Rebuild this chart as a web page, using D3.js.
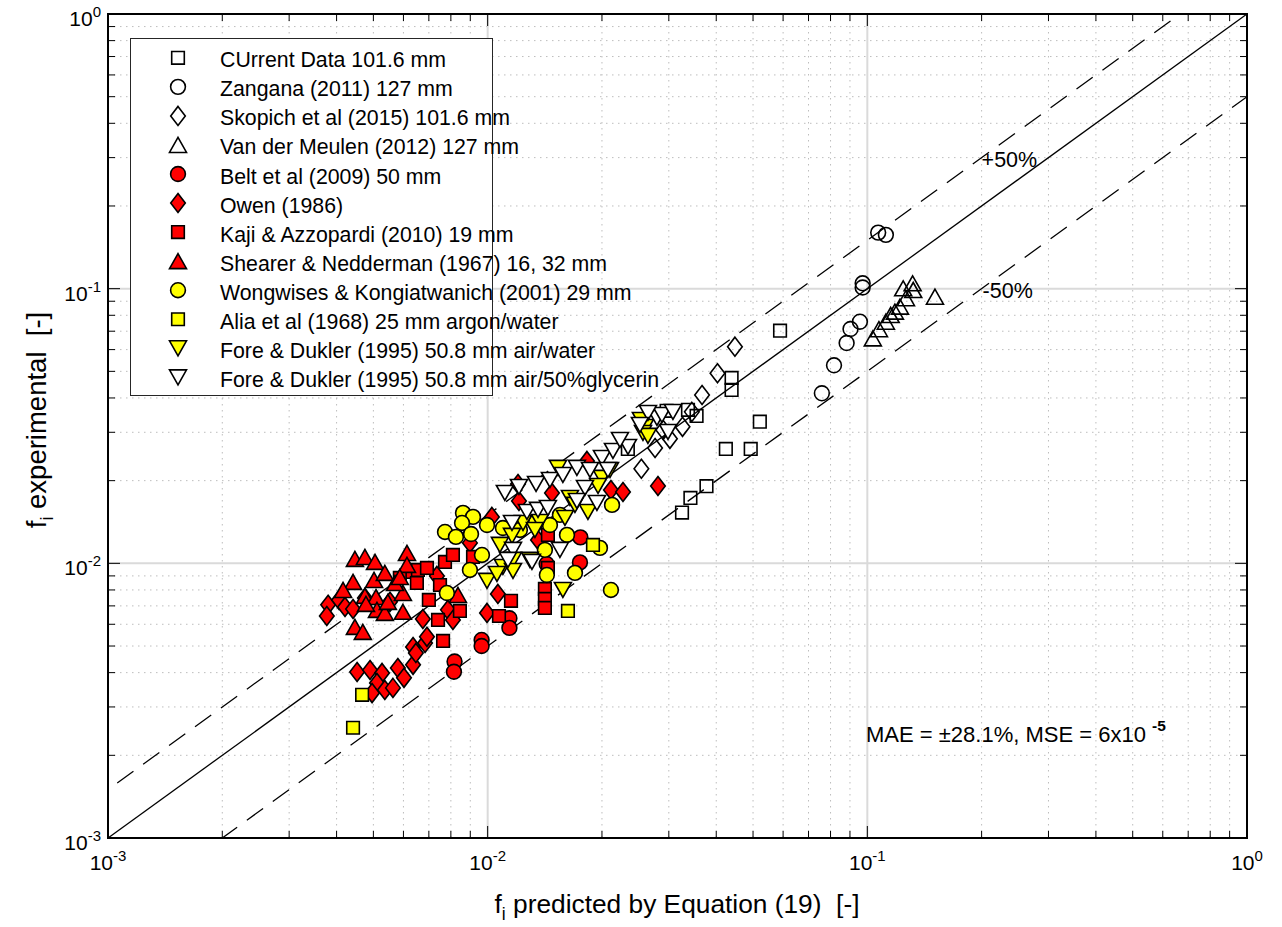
<!DOCTYPE html>
<html>
<head>
<meta charset="utf-8">
<script src="https://cdn.jsdelivr.net/npm/d3@7"></script>
<style>
  body { margin: 0; background: #fff; }
  text { font-family: "Liberation Sans", Arial, sans-serif; fill: #000; white-space: pre; }
</style>
</head>
<body>
<svg id="chart" width="1282" height="927"></svg>
<script>
// axis decades (log10) and labels
const decades = [-3, -2, -1, 0];
const tickBase = "10";

// legend labels
const seriesNames = [
  "CUrrent Data 101.6 mm",
  "Zangana (2011) 127 mm",
  "Skopich et al (2015) 101.6 mm",
  "Van der Meulen (2012) 127 mm",
  "Belt et al (2009) 50 mm",
  "Owen (1986)",
  "Kaji & Azzopardi (2010) 19 mm",
  "Shearer & Nedderman (1967) 16, 32 mm",
  "Wongwises & Kongiatwanich (2001) 29 mm",
  "Alia et al (1968) 25 mm argon/water",
  "Fore & Dukler (1995) 50.8 mm air/water",
  "Fore & Dukler (1995) 50.8 mm air/50%glycerin"
];

// [predicted, experimental]
const currentData = [[0.0234,0.0261],[0.0296,0.0359],[0.0337,0.0362],[0.0355,0.0344],[0.0439,0.0473],
  [0.0439,0.0428],[0.0589,0.0703],[0.0521,0.0328],[0.0424,0.0261],[0.0493,0.0261],[0.0377,0.0191],
  [0.0342,0.0173],[0.0325,0.0153]];
const zangana = [[0.1068,0.160],[0.1119,0.157],[0.0972,0.1046],[0.0972,0.101],[0.0956,0.0758],
  [0.0903,0.0713],[0.0882,0.0634],[0.0817,0.0526],[0.0759,0.0416]];
const skopich = [[0.0448,0.0615],[0.0403,0.0492],[0.0367,0.0410],[0.0345,0.0356],[0.0326,0.0314],
  [0.0302,0.0284],[0.0276,0.0263],[0.0254,0.0221],[0.0290,0.0306]];
const vanDerMeulen = [[0.1034,0.0659],[0.1073,0.0712],[0.1119,0.0758],[0.1152,0.0802],[0.1182,0.0825],
  [0.1219,0.0860],[0.1264,0.0923],[0.1243,0.1003],[0.1316,0.1046],[0.1321,0.0989],[0.1507,0.0935]];
const belt = [[0.00964,0.00526],[0.00964,0.00500],[0.00818,0.00439],[0.00815,0.00403],[0.01141,0.00631],
  [0.01141,0.00582],[0.01755,0.01243],[0.0175,0.01008],[0.0143,0.00995]];
const owen = [[0.00380,0.00706],[0.00377,0.00643],[0.00406,0.00736],[0.00421,0.00694],[0.00442,0.00682],
  [0.00475,0.00748],[0.00553,0.00724],[0.00735,0.00900],[0.00675,0.00627],[0.00636,0.00496],
  [0.00684,0.00513],[0.00692,0.00540],[0.00636,0.00427],[0.00580,0.00416],[0.00602,0.00383],
  [0.00453,0.00402],[0.00490,0.00409],[0.00527,0.00399],[0.00511,0.00367],[0.00536,0.00346],
  [0.00563,0.00352],[0.00496,0.00337],[0.00786,0.00677],[0.00996,0.00660],[0.01064,0.00774],
  [0.00898,0.01187],[0.01026,0.01476],[0.01202,0.01945],[0.01209,0.01687],[0.01477,0.01804],
  [0.01826,0.02360],[0.02112,0.01850],[0.02272,0.01819],[0.02809,0.01913],[0.01357,0.01217],
  [0.00647,0.00472],[0.00810,0.00622]];
const kaji = [[0.00624,0.00930],[0.00655,0.00946],[0.00692,0.00962],[0.00772,0.01012],[0.00810,0.01073],
  [0.00651,0.00848],[0.00700,0.00736],[0.00845,0.00671],[0.00740,0.00622],[0.00763,0.00522],
  [0.01152,0.00730],[0.01071,0.00643],[0.01415,0.00807],[0.01415,0.00742],[0.01415,0.00688],
  [0.01441,0.00962],[0.01441,0.01269],[0.00915,0.01055],[0.00587,0.00885],[0.00749,0.00834]];
const shearer = [[0.00447,0.01038],[0.00475,0.01055],[0.00505,0.01012],[0.00613,0.01091],[0.00613,0.00987],
  [0.00442,0.00856],[0.00502,0.00870],[0.00536,0.00923],[0.00475,0.00761],[0.00508,0.00754],
  [0.00598,0.00780],[0.00447,0.00587],[0.00469,0.00563],[0.00511,0.00677],[0.00536,0.00660],
  [0.00598,0.00666],[0.00570,0.00848],[0.00416,0.00800],[0.00835,0.00767],[0.00587,0.00892],
  [0.00546,0.00724],[0.00478,0.00712]];
const wongwises = [[0.00861,0.01526],[0.00915,0.01476],[0.00856,0.01403],[0.00772,0.01301],[0.00825,0.01248],
  [0.00904,0.01279],[0.00996,0.01379],[0.00898,0.00946],[0.00781,0.00780],[0.01415,0.01119],
  [0.01432,0.00907],[0.01698,0.00923],[0.01618,0.01269],[0.02126,0.01632],[0.01976,0.01138],
  [0.02112,0.00800],[0.01097,0.01345],[0.01550,0.01501],[0.01459,0.01379],[0.00966,0.01073],
  [0.01216,0.01323],[0.01341,0.01415]];
const alia = [[0.00442,0.00252],[0.00467,0.00332],[0.01627,0.00671],[0.01894,0.01167]];
const foreWater = [[0.01532,0.02226],[0.02533,0.03327],[0.02596,0.03137],[0.02565,0.02983],[0.02643,0.02910],
  [0.02000,0.02047],[0.01953,0.01913],[0.01647,0.01730],[0.01837,0.01538],[0.01598,0.01463],
  [0.01373,0.01415],[0.01239,0.01403],[0.01332,0.01323],[0.01159,0.01259],[0.01077,0.01167],
  [0.01166,0.01029],[0.01097,0.00970],[0.00996,0.00863],[0.01058,0.00915],[0.01166,0.00938],
  [0.01292,0.01029],[0.01578,0.00800],[0.01698,0.01632],[0.02100,0.02188]];
const foreGlycerin = [[0.01110,0.01804],[0.01209,0.01897],[0.01341,0.01945],[0.01459,0.02012],[0.01578,0.02098],
  [0.01718,0.02226],[0.01804,0.01881],[0.01940,0.01659],[0.02000,0.02419],[0.02138,0.02565],
  [0.02342,0.02653],[0.02074,0.02188],[0.01269,0.01538],[0.01357,0.01565],[0.01441,0.01591],
  [0.01550,0.01119],[0.01718,0.01687],[0.01166,0.01119],[0.02792,0.03383],[0.02877,0.03469],
  [0.03076,0.03557],[0.02985,0.03009],[0.02643,0.03527],[0.01308,0.01012],[0.01131,0.01029],
  [0.01159,0.01403],[0.01860,0.02188],[0.02518,0.03190],[0.02231,0.02813]];

// reference lines: ratio of experimental to predicted
const lineRatios = [1, 1.5, 0.5];
const bandLabels = ["+50%", "-50%"];
const statsText = "MAE = \u00b128.1%, MSE = 6x10 ";
const statsExp = "-5";

// marker shapes
const shapes = {
  square: "M-6.3,-6.3H6.3V6.3H-6.3Z",
  circle: "M7.4,0A7.4,7.4 0 1,1 -7.4,0A7.4,7.4 0 1,1 7.4,0Z",
  diamond: "M0,-9.5L7.3,0L0,9.5L-7.3,0Z",
  up: "M0,-7.5L8.5,7.5L-8.5,7.5Z",
  down: "M-8.5,-7.5L8.5,-7.5L0,7.5Z"
};
const seriesData = [currentData, zangana, skopich, vanDerMeulen, belt, owen, kaji, shearer,
  wongwises, alia, foreWater, foreGlycerin];
const seriesShape = ["square","circle","diamond","up","circle","diamond","square","up",
  "circle","square","down","down"];
const seriesFill = ["none","none","none","none","#ff0000","#ff0000","#ff0000","#ff0000",
  "#ffff00","#ffff00","#ffff00","#ffffff"];

const svg = d3.select("#chart");
const pLeft = 108, pRight = 1247, pTop = 14, pBottom = 838;

const x = d3.scaleLog().domain([1e-3, 1]).range([pLeft, pRight]);
const y = d3.scaleLog().domain([1e-3, 1]).range([pBottom, pTop]);

svg.append("rect").attr("width", 1282).attr("height", 927).attr("fill", "#fff");

const minors = [];
decades.slice(0, -1).forEach(d => {
  for (let k = 2; k <= 9; k++) minors.push(k * Math.pow(10, d));
});
const majors = decades.map(d => Math.pow(10, d));

// grid
const grid = svg.append("g");
grid.selectAll(".mx").data(minors).enter().append("line")
  .attr("x1", d => x(d)).attr("x2", d => x(d)).attr("y1", pTop).attr("y2", pBottom)
  .attr("stroke", "#bdbdbd").attr("stroke-width", 1).attr("stroke-dasharray", "1.5,4.5");
grid.selectAll(".my").data(minors).enter().append("line")
  .attr("y1", d => y(d)).attr("y2", d => y(d)).attr("x1", pLeft).attr("x2", pRight)
  .attr("stroke", "#bdbdbd").attr("stroke-width", 1).attr("stroke-dasharray", "1.5,4.5");
grid.selectAll(".Mx").data(majors.slice(1, -1)).enter().append("line")
  .attr("x1", d => x(d)).attr("x2", d => x(d)).attr("y1", pTop).attr("y2", pBottom)
  .attr("stroke", "#dadada").attr("stroke-width", 2);
grid.selectAll(".My").data(majors.slice(1, -1)).enter().append("line")
  .attr("y1", d => y(d)).attr("y2", d => y(d)).attr("x1", pLeft).attr("x2", pRight)
  .attr("stroke", "#dadada").attr("stroke-width", 2);

// clip for lines and markers
svg.append("clipPath").attr("id", "clip").append("rect")
  .attr("x", pLeft).attr("y", pTop).attr("width", pRight - pLeft).attr("height", pBottom - pTop);

const plot = svg.append("g").attr("clip-path", "url(#clip)");
const line = d3.line().x(d => x(d[0])).y(d => y(d[1]));
lineRatios.forEach((r, i) => {
  const pts = [[1e-4, 1e-4 * r], [2, 2 * r]];
  plot.append("path").attr("d", line(pts)).attr("fill", "none")
    .attr("stroke", "#000").attr("stroke-width", 1.3)
    .attr("stroke-dasharray", i === 0 ? null : "20,12");
});

// markers
seriesData.forEach((data, i) => {
  plot.append("g").selectAll("path").data(data).enter().append("path")
    .attr("d", shapes[seriesShape[i]])
    .attr("transform", d => `translate(${x(d[0])},${y(d[1])})`)
    .attr("fill", seriesFill[i])
    .attr("stroke", "#000").attr("stroke-width", 1.6);
});

// band labels
svg.append("text").attr("x", x(0.2)).attr("y", y(0.2 * 1.5) + 9.5)
  .attr("font-size", 21.5).text(bandLabels[0]);
svg.append("text").attr("x", x(0.2) + 1).attr("y", y(0.2 * 0.5) + 9.5)
  .attr("font-size", 21.5).text(bandLabels[1]);

// stats
const st = svg.append("text").attr("x", 866).attr("y", 742).attr("font-size", 22);
st.append("tspan").text(statsText);
st.append("tspan").attr("dy", -11).attr("font-size", 15.5).attr("font-weight", "bold").text(statsExp);

// axes box and ticks
const axes = svg.append("g");
axes.append("rect").attr("x", pLeft).attr("y", pTop).attr("width", pRight - pLeft)
  .attr("height", pBottom - pTop).attr("fill", "none").attr("stroke", "#000").attr("stroke-width", 2);
const tickLen = d => majors.includes(d) ? 12 : 7;
const allTicks = majors.concat(minors);
allTicks.forEach(d => {
  const L = tickLen(d);
  axes.append("line").attr("x1", x(d)).attr("x2", x(d)).attr("y1", pBottom).attr("y2", pBottom - L)
    .attr("stroke", "#000").attr("stroke-width", 1);
  axes.append("line").attr("x1", x(d)).attr("x2", x(d)).attr("y1", pTop).attr("y2", pTop + L)
    .attr("stroke", "#000").attr("stroke-width", 1);
  axes.append("line").attr("y1", y(d)).attr("y2", y(d)).attr("x1", pLeft).attr("x2", pLeft + L)
    .attr("stroke", "#000").attr("stroke-width", 1);
  axes.append("line").attr("y1", y(d)).attr("y2", y(d)).attr("x1", pRight).attr("x2", pRight - L)
    .attr("stroke", "#000").attr("stroke-width", 1);
});

// tick labels
decades.forEach(d => {
  const v = Math.pow(10, d);
  const tx = axes.append("text").attr("x", x(v)).attr("y", 870)
    .attr("text-anchor", "middle").attr("font-size", 21);
  tx.append("tspan").text(tickBase);
  tx.append("tspan").attr("dy", -9).attr("font-size", 15).text(String(d));
  const ty = axes.append("text").attr("x", 101).attr("y", y(v) + 12)
    .attr("text-anchor", "end").attr("font-size", 21);
  ty.append("tspan").text(tickBase);
  ty.append("tspan").attr("dy", -9).attr("font-size", 15).text(String(d));
});

// axis labels
const xl = svg.append("text").attr("x", 677).attr("y", 913).attr("text-anchor", "middle")
  .attr("font-size", 26.3);
xl.append("tspan").text("f");
xl.append("tspan").attr("dy", 7).attr("font-size", 17.5).text("i");
xl.append("tspan").attr("dy", -7).text(" predicted by Equation (19)  [-]");

const yl = svg.append("text").attr("transform", "translate(46,420) rotate(-90)")
  .attr("text-anchor", "middle").attr("font-size", 27.5);
yl.append("tspan").text("f");
yl.append("tspan").attr("dy", 7).attr("font-size", 18).text("i");
yl.append("tspan").attr("dy", -7).text(" experimental  [-]");

// legend
const lg = svg.append("g");
lg.append("rect").attr("x", 130.5).attr("y", 38.5).attr("width", 362).attr("height", 357)
  .attr("fill", "#fff").attr("stroke", "#262626").attr("stroke-width", 1);
seriesNames.forEach((name, i) => {
  const by = 67.3 + i * 29.05;
  lg.append("path").attr("d", shapes[seriesShape[i]])
    .attr("transform", `translate(178,${by - 9.5})`)
    .attr("fill", seriesFill[i] === "none" ? "#fff" : seriesFill[i])
    .attr("stroke", "#000").attr("stroke-width", 1.6);
  lg.append("text").attr("x", 220).attr("y", by).attr("font-size", 21.3).text(name);
});
</script>
</body>
</html>
